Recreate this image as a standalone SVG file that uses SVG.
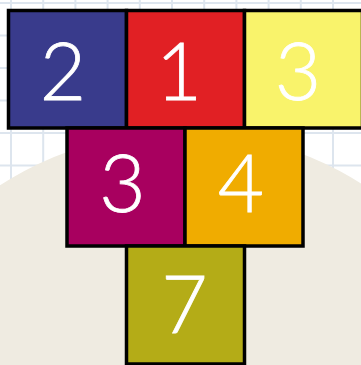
<svg xmlns="http://www.w3.org/2000/svg" width="361" height="365" viewBox="0 0 361 365">
<style>
.grid line{stroke:#dde5ee;stroke-width:2}
.box{stroke:#000;stroke-width:3.5}
.num{font-family:"Lato","Open Sans",sans-serif;font-weight:300;font-size:80px;fill:#fff;text-anchor:middle;stroke:#fff;stroke-width:0.8}
</style>
<rect width="361" height="365" fill="#fff"/>
<g class="grid">
<line x1="11" y1="0" x2="11" y2="365"/><line x1="43.2" y1="0" x2="43.2" y2="365"/><line x1="75.4" y1="0" x2="75.4" y2="365"/><line x1="107.6" y1="0" x2="107.6" y2="365"/><line x1="139.8" y1="0" x2="139.8" y2="365"/><line x1="172" y1="0" x2="172" y2="365"/><line x1="204.2" y1="0" x2="204.2" y2="365"/><line x1="236.4" y1="0" x2="236.4" y2="365"/><line x1="268.6" y1="0" x2="268.6" y2="365"/><line x1="300.8" y1="0" x2="300.8" y2="365"/><line x1="333" y1="0" x2="333" y2="365"/>
<line x1="0" y1="3" x2="361" y2="3"/><line x1="0" y1="35.5" x2="361" y2="35.5"/><line x1="0" y1="68" x2="361" y2="68"/><line x1="0" y1="100.5" x2="361" y2="100.5"/><line x1="0" y1="133" x2="361" y2="133"/><line x1="0" y1="165.5" x2="361" y2="165.5"/><line x1="0" y1="198" x2="361" y2="198"/>
</g>
<circle cx="182" cy="466" r="334.5" fill="#efebe1"/>
<g id="n2"><rect class="box" x="8.5" y="10.5" width="118" height="117.5" fill="#393b8c"/><text class="num" x="63" y="100">2</text></g>
<g id="n1"><rect class="box" x="126.5" y="10.5" width="118" height="117.5" fill="#e12024"/><text class="num" x="179" y="100">1</text></g>
<g id="n3a"><rect class="box" x="244.5" y="10.5" width="118" height="117.5" fill="#f9f36b"/><text class="num" x="298" y="100">3</text></g>
<g id="n3b"><rect class="box" x="67" y="128" width="118" height="118" fill="#a8005f"/><text class="num" x="122.5" y="212">3</text></g>
<g id="n4"><rect class="box" x="185" y="128" width="118" height="118" fill="#f0ac00"/><text class="num" x="241" y="212">4</text></g>
<g id="n7"><rect class="box" x="126.5" y="246" width="118" height="118" fill="#b4ac17"/><text class="num" x="184.5" y="333">7</text></g>
<g id="connectors"/>
</svg>
